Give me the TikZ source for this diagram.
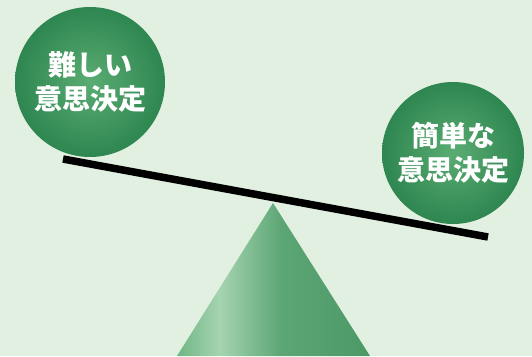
\documentclass[tikz,border=0pt]{standalone}
\usepackage{fontspec}
\newfontfamily\cjk{Noto Sans CJK JP}
\definecolor{bg}{RGB}{226,240,226}
\definecolor{ballin}{RGB}{90,172,114}
\definecolor{ballout}{RGB}{46,134,80}
\definecolor{tL}{RGB}{72,150,100}
\definecolor{tM}{RGB}{112,182,132}
\definecolor{tH}{RGB}{165,212,176}
\definecolor{tM2}{RGB}{92,166,116}
\definecolor{tR}{RGB}{58,138,88}
\pgfdeclarehorizontalshading{tri}{100bp}{color(0bp)=(tL); color(25bp)=(tM); color(36bp)=(tH); color(52bp)=(tM2); color(100bp)=(tR)}
\tikzset{
  ballnode/.style={circle, inner sep=0pt, shade, inner color=ballin, outer color=ballout,
    text=white, align=center, font=\cjk\bfseries\fontsize{28}{34}\selectfont},
  beam/.style={line width=7.5pt, black}
}
\begin{document}
\begin{tikzpicture}[x=1pt,y=-1pt]
\fill[bg] (0,0) rectangle (532,356);
\useasboundingbox (0,0) rectangle (532,356);
\shade[shading=tri] (177,356) -- (273,203) -- (370,356) -- cycle;
\node[ballnode, minimum size=150pt] (hard) at (90,82) {難しい\\意思決定};
\node[ballnode, minimum size=142pt] (easy) at (453,153) {簡単な\\意思決定};
\coordinate (b1) at (63,159);
\coordinate (b2) at (488,237);
\draw[beam] (b1) -- (b2);
\end{tikzpicture}
\end{document}
